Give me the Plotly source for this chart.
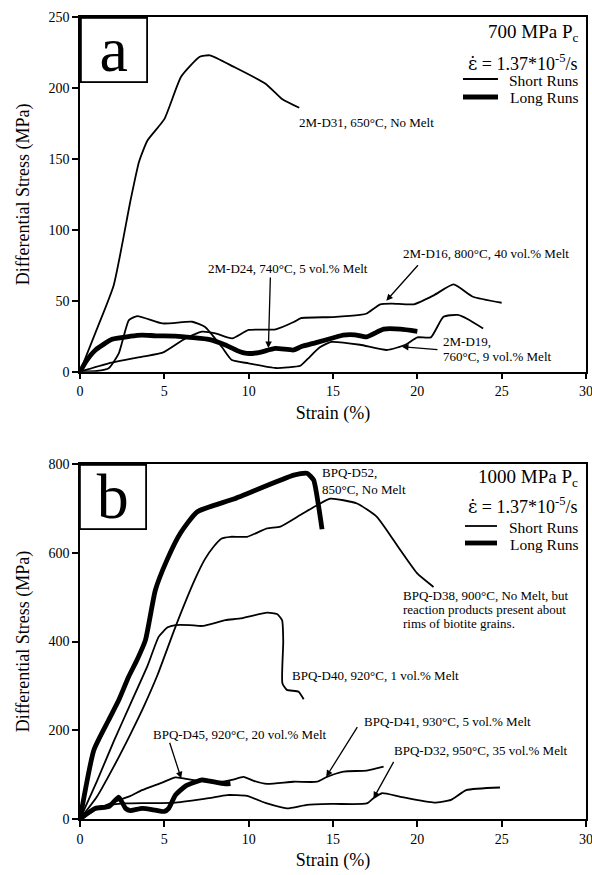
import plotly.graph_objects as go

# ---------------- Panel a data (700 MPa) ----------------
a_D31_x = [0, 1.0, 2.0, 3.0, 3.5, 4.0, 5.0, 6.0, 7.1, 7.7, 9.1, 11.0, 12.0, 13.0]
a_D31_y = [0, 30, 61, 121, 148, 163, 178, 208, 222, 223, 215, 203, 192, 186]

a_D16_x = [0, 1.7, 3.7, 4.9, 6.25, 7.24, 8.03, 9.02, 10.0, 11.6, 12.7, 13.1, 15.0, 16.6, 17.0, 17.8, 18.5, 19.8, 21.0, 22.15, 23.3, 25.0]
a_D16_y = [0, 5.9, 10.6, 13.4, 23.5, 28.2, 27.0, 23.5, 29.4, 29.9, 35.2, 37.8, 38.5, 40.0, 41.0, 47.5, 48.0, 47.5, 54.0, 61.5, 52.8, 48.6]

a_D19_x = [0, 1.0, 1.7, 2.3, 2.9, 3.4, 4.9, 6.65, 7.4, 8.4, 9.0, 10.0, 11.6, 12.3, 13.06, 13.5, 14.2, 14.9, 16.6, 18.2, 19.3, 20.0, 20.8, 21.55, 22.4, 23.0, 23.9]
a_D19_y = [0, 0.5, 2.4, 12.9, 36.4, 39.2, 34.0, 35.2, 31.7, 17.6, 8.2, 5.9, 2.6, 3.0, 4.2, 9.0, 17.0, 21.0, 19.0, 15.3, 19.0, 24.2, 24.2, 38.7, 40.0, 37.0, 30.5]

a_D24_x = [0, 0.4, 0.92, 1.9, 3.0, 3.68, 4.5, 5.66, 6.7, 7.63, 8.62, 9.3, 9.9, 10.6, 11.58, 12.67, 13.1, 14.0, 15.24, 15.6, 16.3, 17.0, 18.0, 19.0, 20.0]
a_D24_y = [0, 8, 15.3, 22.8, 25.0, 25.8, 25.3, 25.1, 24.0, 22.8, 18.8, 15.0, 12.9, 13.5, 16.4, 15.3, 17.6, 20.5, 24.6, 25.8, 26.0, 24.6, 30.0, 30.0, 28.5]

# ---------------- Panel b data (1000 MPa) ----------------
b_D52_x = [0, 0.82, 1.7, 2.3, 2.89, 3.4, 3.88, 4.47, 5.16, 5.95, 6.94, 9.11, 12.67, 13.46, 13.85, 14.15, 14.35]
b_D52_y = [0, 155, 223, 268, 321, 360, 403, 516, 584, 644, 692, 721, 775, 779, 764, 704, 653]

b_D38_x = [0, 1.0, 2.0, 3.0, 3.8, 4.6, 5.66, 6.84, 7.4, 7.93, 8.4, 8.92, 9.9, 11.09, 11.88, 13.06, 14.05, 14.84, 16.42, 17.6, 18.99, 19.98, 20.96]
b_D38_y = [0, 50, 118, 192, 255, 325, 433, 542, 585, 614, 632, 636, 636, 655, 659, 685, 707, 722, 711, 681, 606, 554, 523]

b_D40_x = [0, 1.0, 2.0, 3.0, 4.0, 4.67, 5.2, 5.66, 6.5, 7.24, 8.62, 9.5, 11.09, 11.68, 11.98, 12.05, 12.0, 12.27, 12.96, 13.26]
b_D40_y = [0, 85, 175, 260, 345, 411, 432, 437, 437, 435, 448, 452, 465, 462, 448, 400, 306, 291, 287, 270]

b_D45_x = [0, 0.92, 1.71, 2.3, 2.7, 2.99, 3.68, 4.47, 5.0, 5.26, 5.66, 6.25, 7.24, 7.6, 8.62, 8.92]
b_D45_y = [0, 24, 28, 49, 24, 19, 24, 20, 17, 24, 54, 74, 88, 86, 79, 80]

b_D41_x = [0, 1.0, 2.0, 3.0, 3.68, 4.87, 5.66, 6.65, 7.93, 9.0, 9.7, 10.3, 11.09, 12.67, 14.05, 14.64, 15.63, 17.0, 18.0]
b_D41_y = [0, 22, 38, 52, 65, 82, 94, 88, 82, 88, 95, 86, 79, 84, 84, 95, 107, 109, 118]

b_D32_x = [0, 1.0, 2.0, 2.7, 5.66, 7.63, 8.72, 9.9, 11.09, 12.27, 13.46, 15.0, 17.0, 17.4, 17.9, 19.0, 21.0, 22.0, 22.9, 24.9]
b_D32_y = [0, 25, 33, 35, 37, 47, 54, 52, 35, 24, 32, 34, 35, 47, 58, 50, 37, 43, 65, 71]

x_ticks = [0, 5, 10, 15, 20, 25, 30]
a_y_ticks = [0, 50, 100, 150, 200, 250]
b_y_ticks = [0, 200, 400, 600, 800]

FONT = "Liberation Serif"
THIN = 1.8
THICK = 4.8
W, H = 592, 875
L, R, T, B = 80, 6, 17, 56
PW, PH = W - L - R, H - T - B


def px_x(px):
    return (px - L) / PW


def px_y(py):
    return (H - B - py) / PH


def clamp(v):
    return max(0.0, min(1.0, v))


fig = go.Figure()


def add(x, y, width, xa, ya):
    fig.add_trace(go.Scatter(
        x=x, y=y, mode="lines",
        line=dict(color="black", width=width, shape="spline", smoothing=0.5),
        xaxis=xa, yaxis=ya, showlegend=False, hoverinfo="skip"))


# panel a
add(a_D31_x, a_D31_y, THIN, "x", "y")
add(a_D16_x, a_D16_y, THIN, "x", "y")
add(a_D19_x, a_D19_y, THIN, "x", "y")
add(a_D24_x, a_D24_y, THICK, "x", "y")
# panel b
add(b_D38_x, b_D38_y, THIN, "x2", "y2")
add(b_D40_x, b_D40_y, THIN, "x2", "y2")
add(b_D41_x, b_D41_y, THIN, "x2", "y2")
add(b_D32_x, b_D32_y, THIN, "x2", "y2")
add(b_D52_x, b_D52_y, THICK, "x2", "y2")
add(b_D45_x, b_D45_y, THICK, "x2", "y2")

axis_common = dict(
    showline=True, linecolor="black", linewidth=1.5, mirror=True,
    ticks="outside", ticklen=6, tickwidth=1.5, tickcolor="black",
    showgrid=False, zeroline=False, automargin=False,
    ticklabeloverflow="allow",
    tickfont=dict(family=FONT, size=14, color="black"),
)
TITLE_FONT = dict(family=FONT, size=18, color="black")

a_dom = [clamp(px_y(371.7)), 1.0]
b_dom = [0.0, clamp(px_y(464))]

fig.update_layout(
    width=W, height=H,
    margin=dict(l=L, r=R, t=T, b=B),
    paper_bgcolor="white", plot_bgcolor="white",
    font=dict(family=FONT, color="black"),
    showlegend=False,
    xaxis=dict(range=[0, 30], tickvals=x_ticks, anchor="y", domain=[0, 1],
               title=dict(text="Strain (%)", font=TITLE_FONT, standoff=8),
               **axis_common),
    yaxis=dict(range=[0, 250], tickvals=a_y_ticks, anchor="x", domain=a_dom,
               title=dict(text="Differential Stress (MPa)", font=TITLE_FONT, standoff=14),
               **axis_common),
    xaxis2=dict(range=[0, 30], tickvals=x_ticks, anchor="y2", domain=[0, 1],
                title=dict(text="Strain (%)", font=TITLE_FONT, standoff=8),
                **axis_common),
    yaxis2=dict(range=[0, 800], tickvals=b_y_ticks, anchor="x2", domain=b_dom,
                title=dict(text="Differential Stress (MPa)", font=TITLE_FONT, standoff=14),
                **axis_common),
)

ann = []
shapes = []


def text(px, py, s, size=13, xanchor="left"):
    ann.append(dict(x=px_x(px), y=px_y(py), xref="paper", yref="paper", text=s,
                    showarrow=False, xanchor=xanchor, yanchor="middle",
                    font=dict(family=FONT, size=size, color="black")))


def arrow(xd, yd, xa, ya, ax, ay):
    ann.append(dict(x=xd, y=yd, xref=xa, yref=ya, text="", showarrow=True,
                    ax=ax, ay=ay, arrowhead=2, arrowsize=1, arrowwidth=1.3,
                    arrowcolor="black", standoff=0))


def boxlabel(px, py, s):
    ann.append(dict(x=px_x(px), y=px_y(py), xref="paper", yref="paper", text=s,
                    showarrow=False, xanchor="left", yanchor="top",
                    width=64, height=62, borderwidth=1.8, bordercolor="black",
                    bgcolor="white", borderpad=0, valign="middle",
                    font=dict(family=FONT, size=64, color="black")))


def legend_key(px0, px1, py, width, label):
    shapes.append(dict(type="line", xref="paper", yref="paper",
                       x0=px_x(px0), x1=px_x(px1), y0=px_y(py), y1=px_y(py),
                       line=dict(color="black", width=width)))
    text(580, py + 1, label, 15.5, "right")


EPS = ('<span style="font-family:DejaVu Serif">\u03b5\u0307</span>'
       " = 1.37*10<sup>-5</sup>/s")

# panel a annotations
boxlabel(80, 16.7, "a")
text(580, 33, "700 MPa P<sub>c</sub>", 19, "right")
text(580, 62, EPS, 18, "right")
legend_key(463, 498, 79, THIN, "Short Runs")
legend_key(463, 498, 97, THICK, "Long Runs")
text(297, 123, "2M-D31, 650°C, No Melt")
text(206, 268, "2M-D24, 740°C, 5 vol.% Melt")
text(401, 253, "2M-D16, 800°C, 40 vol.% Melt")
text(441, 341.5, "2M-D19,")
text(441, 356.5, "760°C, 9 vol.% Melt")
arrow(11.17, 16.7, "x", "y", 2, -72)
arrow(18.16, 50, "x", "y", 33, -37)
arrow(19.09, 17.6, "x", "y", 37, 3)

# panel b annotations
boxlabel(78.5, 464, "b")
text(580, 478, "1000 MPa P<sub>c</sub>", 19, "right")
text(580, 505, EPS, 18, "right")
legend_key(465, 497, 526, THIN, "Short Runs")
legend_key(465, 497, 543, THICK, "Long Runs")
text(320, 472, "BPQ-D52,")
text(320, 490, "850°C, No Melt")
text(401, 595, "BPQ-D38, 900°C, No Melt, but")
text(401, 609, "reaction products present about")
text(401, 623, "rims of biotite grains.")
text(290, 675, "BPQ-D40, 920°C, 1 vol.% Melt")
text(151, 734, "BPQ-D45, 920°C, 20 vol.% Melt")
text(362, 721.5, "BPQ-D41, 930°C, 5 vol.% Melt")
text(392, 750, "BPQ-D32, 950°C, 35 vol.% Melt")
arrow(6.0, 91.7, "x2", "y2", -12, -37)
arrow(14.6, 95.3, "x2", "y2", 32, -51)
arrow(17.4, 46.6, "x2", "y2", 21, -38)

fig.update_layout(annotations=ann, shapes=shapes)
fig.write_html("out.html",
               config={"displayModeBar": False},
               post_script="document.body.style.margin='0';document.body.style.overflow='hidden';")
